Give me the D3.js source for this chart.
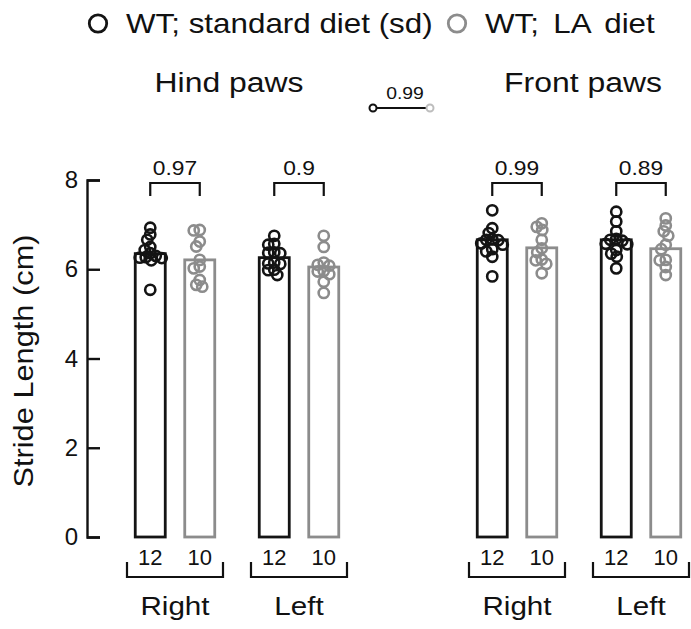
<!DOCTYPE html>
<html>
<head>
<meta charset="utf-8">
<script src="https://cdn.jsdelivr.net/npm/d3@7"></script>
<style>
  body { margin: 0; background: #fff; }
  text { font-family: "Liberation Sans", Arial, sans-serif; fill: #111; }
</style>
</head>
<body>
<div id="chart"></div>
<script>
// groups and labels
const paws = ["Hind paws", "Front paws"];
const sides = ["Right", "Left"];
const diets = ["WT; standard diet (sd)", "WT; LA diet"];
const nCounts = [12, 10];
const yTicks = [0, 2, 4, 6, 8];

// bar heights (group means, cm), [sd, LA]
const hindRightMeans = [6.35, 6.21];
const hindLeftMeans = [6.26, 6.05];
const frontRightMeans = [6.66, 6.48];
const frontLeftMeans = [6.66, 6.46];

// individual animals (cm)
const hindRightSd = [6.93, 6.78, 6.66, 6.50, 6.43, 6.36, 6.30, 6.27, 6.26, 6.25, 6.20, 5.54];
const hindRightLa = [6.88, 6.87, 6.62, 6.51, 6.21, 6.06, 6.02, 5.76, 5.65, 5.61];
const hindLeftSd = [6.75, 6.57, 6.55, 6.38, 6.37, 6.36, 6.15, 6.13, 6.12, 5.99, 5.98, 5.87];
const hindLeftLa = [6.75, 6.50, 6.15, 6.10, 6.08, 5.96, 5.95, 5.89, 5.72, 5.47];
const frontRightSd = [7.32, 6.92, 6.81, 6.67, 6.66, 6.65, 6.58, 6.55, 6.45, 6.40, 6.28, 5.84];
const frontRightLa = [7.03, 6.95, 6.88, 6.66, 6.47, 6.38, 6.22, 6.20, 6.12, 5.91];
const frontLeftSd = [7.29, 7.07, 6.85, 6.68, 6.66, 6.64, 6.57, 6.56, 6.43, 6.35, 6.28, 6.02];
const frontLeftLa = [7.14, 6.98, 6.85, 6.75, 6.55, 6.45, 6.21, 6.20, 6.05, 5.87];

// p values (sd vs LA), per paw: [Right, Left]
const hindPValues = ["0.97", "0.9"];
const frontPValues = ["0.99", "0.89"];
const pawPValue = "0.99";

const colors = ["#141414", "#8c8c8c"];
const W = 691, H = 629;
const stretch = 1.14;

const svg = d3.select("#chart").append("svg")
    .attr("width", W)
    .attr("height", H);

const y = d3.scaleLinear().domain([0, 8]).range([537, 180]);
const xPaw = d3.scalePoint().domain(paws).range([237, 579]);
const xSide = d3.scalePoint().domain(sides).range([-62, 62]);
const xDiet = d3.scalePoint().domain(diets).range([-24.75, 24.75]);

function wideText(sel, x, yy, sx) {
    return sel.attr("transform", `translate(${x},${yy}) scale(${sx},1)`);
}

// y axis
const yAxis = svg.append("g")
    .attr("transform", "translate(87,0)")
    .call(d3.axisLeft(y).tickValues(yTicks).tickSize(-13).tickPadding(9));
yAxis.select(".domain").attr("stroke", "#111").attr("stroke-width", 2.4);
yAxis.selectAll(".tick line").attr("stroke", "#111").attr("stroke-width", 2.4);
yAxis.selectAll(".tick text")
    .attr("font-size", 24)
    .attr("fill", "#111")
    .attr("font-family", "Liberation Sans, Arial, sans-serif");

svg.append("text")
    .attr("transform", `translate(33,361) rotate(-90) scale(${stretch},1)`)
    .attr("text-anchor", "middle")
    .attr("font-size", 27)
    .text("Stride Length (cm)");

// legend
const legendX = [98, 457];
diets.forEach((d, i) => {
    svg.append("circle")
        .attr("cx", legendX[i]).attr("cy", 23.5).attr("r", 8.7)
        .attr("fill", "none")
        .attr("stroke", colors[i])
        .attr("stroke-width", 2.8);
    wideText(svg.append("text"), legendX[i] + 28, 33, 1.12)
        .attr("font-size", 28)
        .style("word-spacing", i === 1 ? "5px" : "0px")
        .text(d);
});

// paw titles
paws.forEach((p, i) => {
    wideText(svg.append("text"), [229, 583][i], 92, stretch)
        .attr("text-anchor", "middle")
        .attr("font-size", 28)
        .text(p);
});

// hind vs front comparison key
const keyLine = svg.append("g");
keyLine.append("line")
    .attr("x1", 373).attr("x2", 430).attr("y1", 108).attr("y2", 108)
    .attr("stroke", "#111").attr("stroke-width", 2);
keyLine.append("circle").attr("cx", 373).attr("cy", 108).attr("r", 3.5)
    .attr("fill", "#fff").attr("stroke", "#111").attr("stroke-width", 2);
keyLine.append("circle").attr("cx", 430).attr("cy", 108).attr("r", 3.5)
    .attr("fill", "#fff").attr("stroke", "#bdbdbd").attr("stroke-width", 2);
wideText(keyLine.append("text"), 405, 99, stretch)
    .attr("text-anchor", "middle")
    .attr("font-size", 17)
    .text(pawPValue);

// simple deterministic beeswarm, overlapping allowed a bit
function swarm(values, cx, minD) {
    const placed = [];
    const pts = values.map(v => ({v: v, cy: y(v)})).sort((a, b) => a.cy - b.cy);
    for (const p of pts) {
        let off = 0;
        for (let k = 0; k < 400; k++) {
            const o = (k % 2 === 0 ? 1 : -1) * Math.ceil(k / 2) * 0.5;
            const ok = placed.every(q => (q.cx - (cx + o)) ** 2 + (q.cy - p.cy) ** 2 >= minD * minD);
            if (ok) { off = o; break; }
        }
        p.cx = cx + off;
        placed.push(p);
    }
    return placed;
}

const groups = [
    {paw: paws[0], side: sides[0], means: hindRightMeans, pts: [hindRightSd, hindRightLa], p: hindPValues[0]},
    {paw: paws[0], side: sides[1], means: hindLeftMeans, pts: [hindLeftSd, hindLeftLa], p: hindPValues[1]},
    {paw: paws[1], side: sides[0], means: frontRightMeans, pts: [frontRightSd, frontRightLa], p: frontPValues[0]},
    {paw: paws[1], side: sides[1], means: frontLeftMeans, pts: [frontLeftSd, frontLeftLa], p: frontPValues[1]}
];

const barW = 30;
const dotR = 5.1;
groups.forEach(g => {
    const center = xPaw(g.paw) + xSide(g.side);
    const g0 = svg.append("g");

    diets.forEach((d, i) => {
        const cx = center + xDiet(d);
        g0.append("rect")
            .attr("x", cx - barW / 2)
            .attr("y", y(g.means[i]))
            .attr("width", barW)
            .attr("height", y(0) - y(g.means[i]))
            .attr("fill", "#fff")
            .attr("stroke", colors[i])
            .attr("stroke-width", 2.8);
    });

    diets.forEach((d, i) => {
        const cx = center + xDiet(d);
        const dots = swarm(g.pts[i], cx, 6);
        g0.selectAll(null)
            .data(dots)
            .enter()
            .append("circle")
            .attr("cx", p => p.cx)
            .attr("cy", p => p.cy)
            .attr("r", dotR)
            .attr("fill", "none")
            .attr("stroke", colors[i])
            .attr("stroke-width", 2.6);

        g0.append("text")
            .attr("x", cx)
            .attr("y", 565)
            .attr("text-anchor", "middle")
            .attr("font-size", 22)
            .text(nCounts[i]);
    });

    // significance bracket
    const xa = center + xDiet(diets[0]), xb = center + xDiet(diets[1]);
    g0.append("path")
        .attr("d", `M${xa},196V183H${xb}V196`)
        .attr("fill", "none")
        .attr("stroke", "#111")
        .attr("stroke-width", 2.2);
    wideText(g0.append("text"), center, 175, stretch)
        .attr("text-anchor", "middle")
        .attr("font-size", 20)
        .text(g.p);

    // category bracket
    g0.append("path")
        .attr("d", `M${center - 48},562V577H${center + 48}V562`)
        .attr("fill", "none")
        .attr("stroke", "#111")
        .attr("stroke-width", 2.2);
    wideText(g0.append("text"), center, 615, stretch)
        .attr("text-anchor", "middle")
        .attr("font-size", 26)
        .text(g.side);
});
</script>
</body>
</html>
